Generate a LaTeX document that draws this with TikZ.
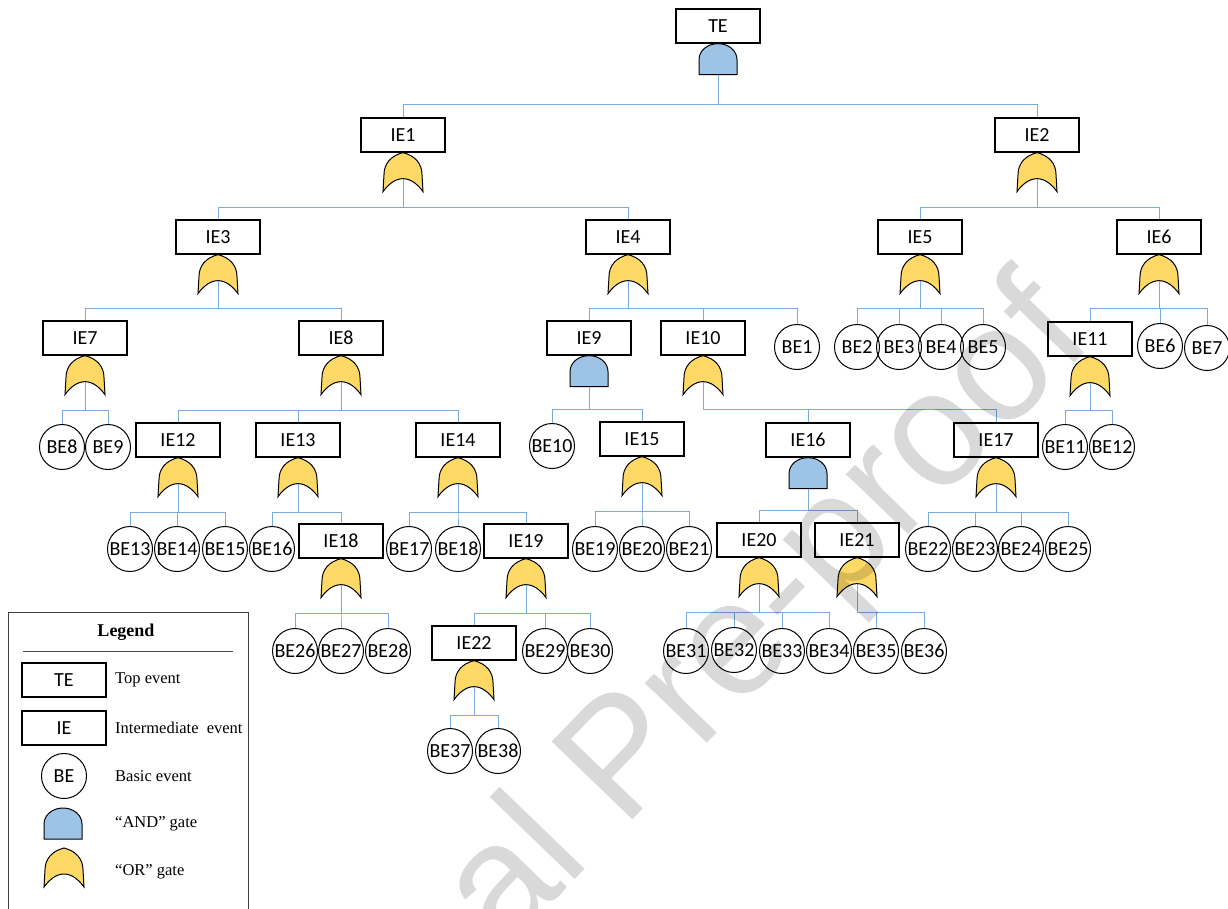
\documentclass[tikz,border=0pt]{standalone}
\usepackage{fontspec}
\setmainfont{Carlito}
\newfontfamily\legendfont{Liberation Serif}
\newfontfamily\wmfont{Liberation Sans}
\usetikzlibrary{positioning}
\definecolor{connblue}{RGB}{120,170,222}
\definecolor{andblue}{RGB}{157,195,230}
\definecolor{oryellow}{RGB}{255,217,102}
\tikzset{
  ev/.style={draw, line width=1.3pt, minimum width=84pt, minimum height=34pt,
             inner sep=0pt, font=\fontsize{20}{20}\selectfont},
  be/.style={draw, circle, line width=1pt, minimum size=45pt, inner sep=0pt,
             font=\fontsize{20}{20}\selectfont},
  conn/.style={draw=connblue, line width=0.9pt},
  bus/.style={to path={-- ++(0,#1) -| (\tikztotarget)}},
  legtext/.style={font=\legendfont\fontsize{16.5}{16.5}\selectfont, inner sep=0pt},
  andgate/.pic={
    \draw[fill=andblue, line width=1pt] (-19,31) -- (-19,16)
      .. controls (-19,7) and (-10.5,0) .. (0,0)
      .. controls (10.5,0) and (19,7) .. (19,16) -- (19,31) -- cycle;
    \coordinate (-out) at (0,31);
  },
  orgate/.pic={
    \draw[fill=oryellow, line width=1pt] (0,0)
      .. controls (-12,3) and (-19,11) .. (-19,22) -- (-20,39)
      .. controls (-15,32) and (-8,26) .. (0,26)
      .. controls (8,26) and (15,32) .. (20,39) -- (19,22)
      .. controls (19,11) and (12,3) .. (0,0) -- cycle;
    \coordinate (-out) at (0,26);
  },
}

\begin{document}
\begin{tikzpicture}[x=1pt, y=-1pt]
\useasboundingbox (0,0) rectangle (1228,909);

% events
\node[ev] (TE) at (718,26) {TE};

\node[ev] (IE1) at (403,135) {IE1};
\node[ev] (IE2) at (1037,135) {IE2};

\node[ev] (IE3) at (218,237) {IE3};
\node[ev] (IE4) at (628,237) {IE4};
\node[ev] (IE5) at (920,237) {IE5};
\node[ev] (IE6) at (1159,237) {IE6};

\node[ev] (IE7) at (85,338) {IE7};
\node[ev] (IE8) at (341,338) {IE8};
\node[ev] (IE9) at (589,338) {IE9};
\node[ev] (IE10) at (703,338) {IE10};
\node[be] (BE1) at (797,347) {BE1};
\node[be] (BE2) at (857,347) {BE2};
\node[be] (BE3) at (899,347) {BE3};
\node[be] (BE4) at (941,347) {BE4};
\node[be] (BE5) at (983,347) {BE5};
\node[ev] (IE11) at (1090,339) {IE11};
\node[be] (BE6) at (1160,346) {BE6};
\node[be] (BE7) at (1207,348) {BE7};

\node[be] (BE8) at (62,447) {BE8};
\node[be] (BE9) at (108,447) {BE9};
\node[ev] (IE12) at (178,440) {IE12};
\node[ev] (IE13) at (298,440) {IE13};
\node[ev] (IE14) at (458,440) {IE14};
\node[be] (BE10) at (552,446) {BE10};
\node[ev] (IE15) at (642,439) {IE15};
\node[ev] (IE16) at (808,440) {IE16};
\node[ev] (IE17) at (996,440) {IE17};
\node[be] (BE11) at (1065,447) {BE11};
\node[be] (BE12) at (1112,447) {BE12};

\node[be] (BE13) at (130,549) {BE13};
\node[be] (BE14) at (177,549) {BE14};
\node[be] (BE15) at (225,549) {BE15};
\node[be] (BE16) at (272,549) {BE16};
\node[ev] (IE18) at (341,541) {IE18};
\node[be] (BE17) at (409,549) {BE17};
\node[be] (BE18) at (458,549) {BE18};
\node[ev] (IE19) at (526,541) {IE19};
\node[be] (BE19) at (595,549) {BE19};
\node[be] (BE20) at (642,549) {BE20};
\node[be] (BE21) at (689,549) {BE21};
\node[ev] (IE20) at (759,540) {IE20};
\node[ev] (IE21) at (857,540) {IE21};
\node[be] (BE22) at (928,549) {BE22};
\node[be] (BE23) at (975,549) {BE23};
\node[be] (BE24) at (1021,549) {BE24};
\node[be] (BE25) at (1068,549) {BE25};

\node[be] (BE26) at (295,651) {BE26};
\node[be] (BE27) at (341,651) {BE27};
\node[be] (BE28) at (388,651) {BE28};
\node[ev] (IE22) at (474,643) {IE22};
\node[be] (BE29) at (545,651) {BE29};
\node[be] (BE30) at (590,651) {BE30};
\node[be] (BE31) at (686,651) {BE31};
\node[be] (BE32) at (734,650) {BE32};
\node[be] (BE33) at (782,651) {BE33};
\node[be] (BE34) at (829,651) {BE34};
\node[be] (BE35) at (876,651) {BE35};
\node[be] (BE36) at (924,651) {BE36};

\node[be] (BE37) at (450,751) {BE37};
\node[be] (BE38) at (498,751) {BE38};

% gates
\pic (gTE) at (TE.south) {andgate};
\pic (g1) at (IE1.south) {orgate};
\pic (g2) at (IE2.south) {orgate};
\pic (g3) at (IE3.south) {orgate};
\pic (g4) at (IE4.south) {orgate};
\pic (g5) at (IE5.south) {orgate};
\pic (g6) at (IE6.south) {orgate};
\pic (g7) at (IE7.south) {orgate};
\pic (g8) at (IE8.south) {orgate};
\pic (g9) at (IE9.south) {andgate};
\pic (g10) at (IE10.south) {orgate};
\pic (g11) at (IE11.south) {orgate};
\pic (g12) at (IE12.south) {orgate};
\pic (g13) at (IE13.south) {orgate};
\pic (g14) at (IE14.south) {orgate};
\pic (g15) at (IE15.south) {orgate};
\pic (g16) at (IE16.south) {andgate};
\pic (g17) at (IE17.south) {orgate};
\pic (g18) at (IE18.south) {orgate};
\pic (g19) at (IE19.south) {orgate};
\pic (g20) at (IE20.south) {orgate};
\pic (g21) at (IE21.south) {orgate};
\pic (g22) at (IE22.south) {orgate};

% connectors
\draw[conn] (gTE-out) to[bus=30] (IE1.north);
\draw[conn] (gTE-out) to[bus=30] (IE2.north);

\draw[conn] (g1-out) to[bus=29] (IE3.north);
\draw[conn] (g1-out) to[bus=29] (IE4.north);
\draw[conn] (g2-out) to[bus=29] (IE5.north);
\draw[conn] (g2-out) to[bus=29] (IE6.north);

\draw[conn] (g3-out) to[bus=28] (IE7.north);
\draw[conn] (g3-out) to[bus=28] (IE8.north);
\draw[conn] (g4-out) to[bus=28] (IE9.north);
\draw[conn] (g4-out) to[bus=28] (IE10.north);
\draw[conn] (g4-out) to[bus=28] (BE1.north);
\draw[conn] (g5-out) to[bus=28] (BE2.north);
\draw[conn] (g5-out) to[bus=28] (BE3.north);
\draw[conn] (g5-out) to[bus=28] (BE4.north);
\draw[conn] (g5-out) to[bus=28] (BE5.north);
\draw[conn] (g6-out) to[bus=28] (IE11.north);
\draw[conn] (g6-out) to[bus=28] (BE6.north);
\draw[conn] (g6-out) to[bus=28] (BE7.north);

\draw[conn] (g7-out) to[bus=29] (BE8.north);
\draw[conn] (g7-out) to[bus=29] (BE9.north);
\draw[conn] (g8-out) to[bus=29] (IE12.north);
\draw[conn] (g8-out) to[bus=29] (IE13.north);
\draw[conn] (g8-out) to[bus=29] (IE14.north);
\draw[conn] (g9-out) to[bus=23] (BE10.north);
\draw[conn] (g9-out) to[bus=23] (IE15.north);
\draw[conn] (g10-out) to[bus=28] (IE16.north);
\draw[conn] (g10-out) to[bus=28] (IE17.north);
\draw[conn] (g11-out) to[bus=28] (BE11.north);
\draw[conn] (g11-out) to[bus=28] (BE12.north);

\draw[conn] (g12-out) to[bus=29] (BE13.north);
\draw[conn] (g12-out) to[bus=29] (BE14.north);
\draw[conn] (g12-out) to[bus=29] (BE15.north);
\draw[conn] (g13-out) to[bus=29] (BE16.north);
\draw[conn] (g13-out) to[bus=29] (IE18.north);
\draw[conn] (g14-out) to[bus=29] (BE17.north);
\draw[conn] (g14-out) to[bus=29] (BE18.north);
\draw[conn] (g14-out) to[bus=29] (IE19.north);
\draw[conn] (g15-out) to[bus=29] (BE19.north);
\draw[conn] (g15-out) to[bus=29] (BE20.north);
\draw[conn] (g15-out) to[bus=29] (BE21.north);
\draw[conn] (g16-out) to[bus=22] (IE20.north);
\draw[conn] (g16-out) to[bus=22] (IE21.north);
\draw[conn] (g17-out) to[bus=29] (BE22.north);
\draw[conn] (g17-out) to[bus=29] (BE23.north);
\draw[conn] (g17-out) to[bus=29] (BE24.north);
\draw[conn] (g17-out) to[bus=29] (BE25.north);

\draw[conn] (g18-out) to[bus=29] (BE26.north);
\draw[conn] (g18-out) to[bus=29] (BE27.north);
\draw[conn] (g18-out) to[bus=29] (BE28.north);
\draw[conn] (g19-out) to[bus=29] (IE22.north);
\draw[conn] (g19-out) to[bus=29] (BE29.north);
\draw[conn] (g19-out) to[bus=29] (BE30.north);
\draw[conn] (g20-out) to[bus=29] (BE31.north);
\draw[conn] (g20-out) to[bus=29] (BE32.north);
\draw[conn] (g20-out) to[bus=29] (BE33.north);
\draw[conn] (g20-out) to[bus=29] (BE34.north);
\draw[conn] (g21-out) to[bus=29] (BE35.north);
\draw[conn] (g21-out) to[bus=29] (BE36.north);

\draw[conn] (g22-out) to[bus=29] (BE37.north);
\draw[conn] (g22-out) to[bus=29] (BE38.north);

% legend
\draw[draw=black!75, line width=0.8pt] (8,612) rectangle (248,920);
\node[legtext, font=\legendfont\bfseries\fontsize{18}{18}\selectfont] (legtitle) at (126,632) {Legend};
\draw[black!70, line width=0.8pt] (23,651) -- (233,651);
\node[ev] (legTE) at (64,680) {TE};
\node[ev] (legIE) at (64,728) {IE};
\node[be] (legBE) at (64,776) {BE};
\pic (legAND) at (63,808) {andgate};
\pic (legOR) at (64,848) {orgate};
\node[legtext, anchor=west] (txtTE) at (115,680) {Top event};
\node[legtext, anchor=west] (txtIE) at (115,728) {Intermediate\ \ event};
\node[legtext, anchor=west] (txtBE) at (115,776) {Basic event};
\node[legtext, anchor=west] (txtAND) at (115,824) {“AND” gate};
\node[legtext, anchor=west] (txtOR) at (115,872) {“OR” gate};

% watermark
\node[rotate=46, text=black, opacity=0.15, inner sep=0pt,
      font=\wmfont\fontsize{163}{163}\selectfont] (wm) at (628,764) {Journal Pre-proof};
\end{tikzpicture}
\end{document}
